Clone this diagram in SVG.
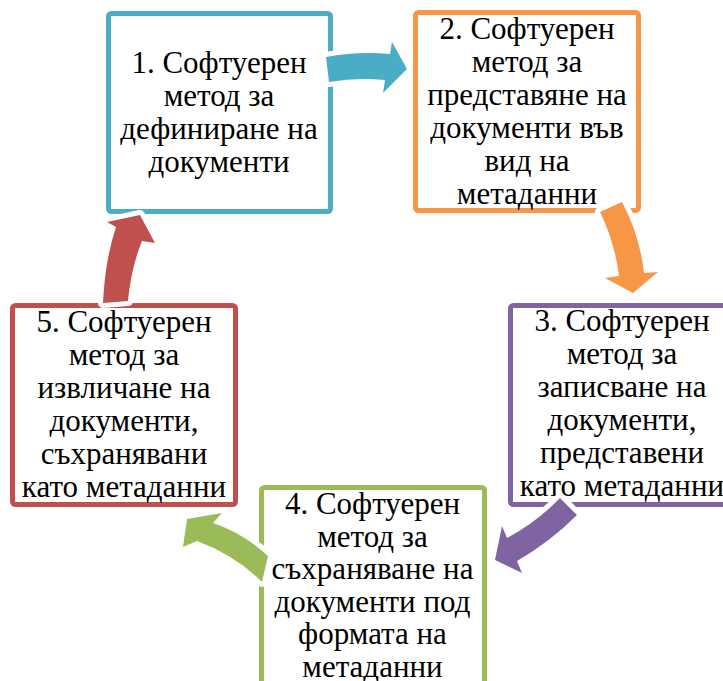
<svg xmlns="http://www.w3.org/2000/svg" width="723" height="681" viewBox="0 0 723 681">
<rect width="723" height="681" fill="#fff"/>
<g id="nodes" font-family="Liberation Serif,Times New Roman,serif" font-size="31" text-anchor="middle">
<g id="node1">
<rect x="108.5" y="13.5" width="222" height="198" rx="3" fill="#fff" stroke="#4BACC6" stroke-width="5"/>
<text><tspan x="219" y="73">1. Софтуерен</tspan><tspan x="219" y="106">метод за</tspan><tspan x="219" y="139">дефиниране на</tspan><tspan x="219" y="172">документи</tspan></text>
</g>
<g id="node2">
<rect x="415.5" y="12.5" width="223" height="198" rx="3" fill="#fff" stroke="#F79646" stroke-width="5"/>
<text><tspan x="527" y="39">2. Софтуерен</tspan><tspan x="527" y="72">метод за</tspan><tspan x="527" y="105">представяне на</tspan><tspan x="527" y="138">документи във</tspan><tspan x="527" y="171">вид на</tspan><tspan x="527" y="204">метаданни</tspan></text>
</g>
<g id="node3">
<rect x="510.5" y="305.5" width="223" height="199" rx="3" fill="#fff" stroke="#8064A2" stroke-width="5"/>
<text><tspan x="622" y="331">3. Софтуерен</tspan><tspan x="622" y="364">метод за</tspan><tspan x="622" y="397">записване на</tspan><tspan x="622" y="430">документи,</tspan><tspan x="622" y="463">представени</tspan><tspan x="622" y="496">като метаданни</tspan></text>
</g>
<g id="node4">
<rect x="261.5" y="487.5" width="223" height="199" rx="3" fill="#fff" stroke="#9BBB59" stroke-width="5"/>
<text><tspan x="372.5" y="514">4. Софтуерен</tspan><tspan x="372.5" y="546.5">метод за</tspan><tspan x="372.5" y="579">съхраняване на</tspan><tspan x="372.5" y="611.5">документи под</tspan><tspan x="372.5" y="644">формата на</tspan><tspan x="372.5" y="676.5">метаданни</tspan></text>
</g>
<g id="node5">
<rect x="12.5" y="305.5" width="223" height="199" rx="3" fill="#fff" stroke="#C0504D" stroke-width="5"/>
<text><tspan x="124" y="332">5. Софтуерен</tspan><tspan x="124" y="365">метод за</tspan><tspan x="124" y="398">извличане на</tspan><tspan x="124" y="431">документи,</tspan><tspan x="124" y="464">съхранявани</tspan><tspan x="124" y="497">като метаданни</tspan></text>
</g>
</g>
<g id="connectors" stroke="#fff" stroke-width="10" paint-order="stroke" stroke-linejoin="round">
<path fill="#4BACC6" d="M326,57 Q358,51 390,54 L392,42 L407,69 L383,93 L385,80 Q357,77 329,82 Z"/>
<path fill="#F79646" d="M600,212 L622,202 Q640,236 644,273 L658,272 L633,293 L605,278 L619,276 Q615,243 600,212 Z"/>
<path fill="#8064A2" d="M560,498 L577,515 Q550,542 517,561 L522,573 L495,560 L502,526 L507,538 Q537,522 560,498 Z"/>
<path fill="#9BBB59" d="M268,556 Q243,533 213,523 L222,513 L187,519 L183,547 L197,541 Q235,555 262,582 Z"/>
<path fill="#C0504D" d="M103,303 Q105,260 116,227 L107,222 L140,215 L155,243 L142,241 Q131,268 128,301 Z"/>
</g>
</svg>
